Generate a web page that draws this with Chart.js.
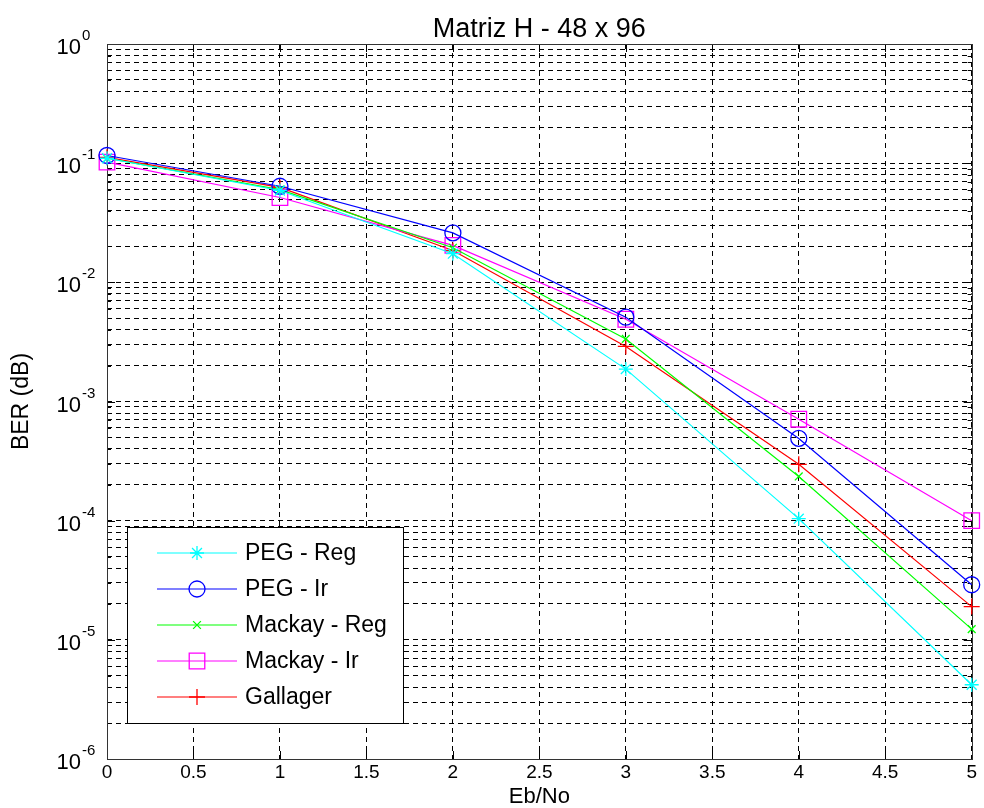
<!DOCTYPE html>
<html>
<head>
<meta charset="utf-8">
<script src="https://cdn.jsdelivr.net/npm/chart.js@4.4.1/dist/chart.umd.min.js"></script>
<style>
  html, body { margin: 0; padding: 0; background: #fff; }
  #wrap { width: 984px; height: 808px; }
</style>
</head>
<body>
<div id="wrap"><canvas id="berChart" width="984" height="808"></canvas></div>
<script>
const ebno = [0, 1, 2, 3, 4, 5];

const pegReg = [0.11, 0.059, 0.0174, 0.00187, 1.04e-4, 4.2e-6];
const pegIr = [0.116, 0.064, 0.026, 0.0051, 4.9e-4, 2.9e-5];
const mackayReg = [0.11, 0.06, 0.0195, 0.00335, 2.35e-4, 1.23e-5];
const mackayIr = [0.102, 0.0515, 0.0204, 0.0049, 7.1e-4, 1.0e-4];
const gallager = [0.112, 0.0626, 0.0185, 0.0029, 2.97e-4, 1.9e-5];

const xTicks = [0, 0.5, 1, 1.5, 2, 2.5, 3, 3.5, 4, 4.5, 5];
const yDecades = [0, -1, -2, -3, -4, -5, -6];
const titleText = "Matriz H - 48 x 96";

const FONT = "'Liberation Sans', Arial, sans-serif";

function toPoints(arr) {
  return arr.map((v, i) => ({ x: ebno[i], y: v }));
}

function series(label, data, color, style, radius) {
  return {
    label: label,
    data: toPoints(data),
    borderColor: color,
    backgroundColor: "rgba(0,0,0,0)",
    borderWidth: 1.2,
    pointStyle: style,
    pointRadius: radius,
    pointBorderColor: color,
    pointBackgroundColor: "rgba(0,0,0,0)",
    pointBorderWidth: 1.3,
    tension: 0,
    clip: false,
  };
}

// frame, inward ticks, title and the 10^n labels, matlab style
const framePlugin = {
  id: "frame",
  beforeDatasetsDraw(chart) {
    const { ctx, chartArea: a, scales } = chart;
    ctx.save();
    ctx.strokeStyle = "#000";
    ctx.lineWidth = 1;
    ctx.beginPath();
    xTicks.forEach((t) => {
      const px = Math.round(scales.x.getPixelForValue(t)) + 0.5;
      ctx.moveTo(px, a.bottom); ctx.lineTo(px, a.bottom - 8);
      ctx.moveTo(px, a.top); ctx.lineTo(px, a.top + 8);
    });
    scales.y.ticks.forEach((t) => {
      const py = Math.round(scales.y.getPixelForValue(t.value)) + 0.5;
      const len = t.major ? 8 : 4;
      ctx.moveTo(a.left, py); ctx.lineTo(a.left + len, py);
      ctx.moveTo(a.right, py); ctx.lineTo(a.right - len, py);
    });
    ctx.stroke();
    ctx.strokeStyle = "#333";
    ctx.strokeRect(Math.round(a.left) + 0.5, Math.round(a.top) + 0.5,
      Math.round(a.right - a.left), Math.round(a.bottom - a.top));
    ctx.restore();
  },
  afterDraw(chart) {
    const { ctx, chartArea: a, scales } = chart;
    ctx.save();
    ctx.fillStyle = "#000";
    ctx.textBaseline = "middle";
    ctx.font = "27px " + FONT;
    ctx.textAlign = "center";
    ctx.fillText(titleText, (a.left + a.right) / 2, 30);

    yDecades.forEach((e) => {
      const py = scales.y.getPixelForValue(Math.pow(10, e));
      ctx.font = "22px " + FONT;
      ctx.textAlign = "right";
      ctx.fillText("10", a.left - 26, py + 4);
      ctx.font = "15px " + FONT;
      ctx.textAlign = "left";
      ctx.fillText(String(e), a.left - 25, py - 8);
    });
    ctx.restore();
  },
};

// legend box in the lower left corner
const legendPlugin = {
  id: "boxLegend",
  afterDraw(chart) {
    const { ctx, chartArea: a } = chart;
    const x0 = a.left + 20, y0 = a.bottom - 232, w = 276, h = 196;
    ctx.save();
    ctx.fillStyle = "#fff";
    ctx.fillRect(x0, y0, w, h);
    ctx.strokeStyle = "#000";
    ctx.lineWidth = 1;
    ctx.strokeRect(x0 + 0.5, y0 + 0.5, w, h);
    chart.data.datasets.forEach((ds, i) => {
      const y = y0 + 26 + i * 36;
      ctx.strokeStyle = ds.borderColor;
      ctx.lineWidth = 1.2;
      ctx.beginPath();
      ctx.moveTo(x0 + 30, y); ctx.lineTo(x0 + 110, y);
      ctx.stroke();
      ctx.lineWidth = 1.3;
      ctx.fillStyle = "rgba(0,0,0,0)";
      Chart.helpers.drawPoint(ctx, { pointStyle: ds.pointStyle, radius: ds.pointRadius, rotation: 0, borderWidth: 1.3 }, x0 + 70, y);
      ctx.fillStyle = "#000";
      ctx.font = "23px " + FONT;
      ctx.textAlign = "left";
      ctx.textBaseline = "middle";
      ctx.fillText(ds.label, x0 + 118, y + 1);
    });
    ctx.restore();
  },
};

const ctx = document.getElementById("berChart").getContext("2d");

new Chart(ctx, {
  type: "line",
  data: {
    datasets: [
      series("PEG - Reg", pegReg, "#00FFFF", "star", 7),
      series("PEG - Ir", pegIr, "#0000FF", "circle", 8),
      series("Mackay - Reg", mackayReg, "#00FF00", "crossRot", 5.5),
      series("Mackay - Ir", mackayIr, "#FF00FF", "rect", 11),
      series("Gallager", gallager, "#FF0000", "cross", 8),
    ],
  },
  options: {
    responsive: false,
    animation: false,
    layout: { padding: { left: 10, right: 9, top: 44, bottom: 0 } },
    plugins: {
      legend: { display: false },
      tooltip: { enabled: false },
      title: { display: false },
    },
    scales: {
      x: {
        type: "linear",
        min: 0,
        max: 5,
        afterBuildTicks(scale) {
          scale.ticks = xTicks.map((v) => ({ value: v }));
        },
        ticks: {
          color: "#000",
          font: { family: FONT, size: 19, lineHeight: 1 },
          padding: 4,
          callback: (v) => String(v),
          maxRotation: 0,
          autoSkip: false,
        },
        grid: { color: "#000", lineWidth: 1, drawTicks: false },
        border: { display: false, dash: [5, 4] },
        title: {
          display: true,
          text: "Eb/No",
          color: "#000",
          font: { family: FONT, size: 22, lineHeight: 1 },
          padding: { top: 0, bottom: 0 },
        },
      },
      y: {
        type: "logarithmic",
        min: 1e-6,
        max: 1,
        afterBuildTicks(scale) {
          const t = [];
          yDecades.forEach((e) => {
            if (e === 0) {
              t.push({ value: 1, major: true });
              return;
            }
            for (let k = 1; k <= 9; k++) {
              t.push({ value: k * Math.pow(10, e), major: k === 1 });
            }
          });
          scale.ticks = t;
        },
        ticks: { display: false },
        grid: { color: "#000", lineWidth: 1, drawTicks: false },
        border: { display: false, dash: [5, 4] },
        title: {
          display: true,
          text: "BER (dB)",
          color: "#000",
          font: { family: FONT, size: 23, lineHeight: 1 },
          padding: { top: 0, bottom: 74 },
        },
      },
    },
  },
  plugins: [framePlugin, legendPlugin],
});
</script>
</body>
</html>
